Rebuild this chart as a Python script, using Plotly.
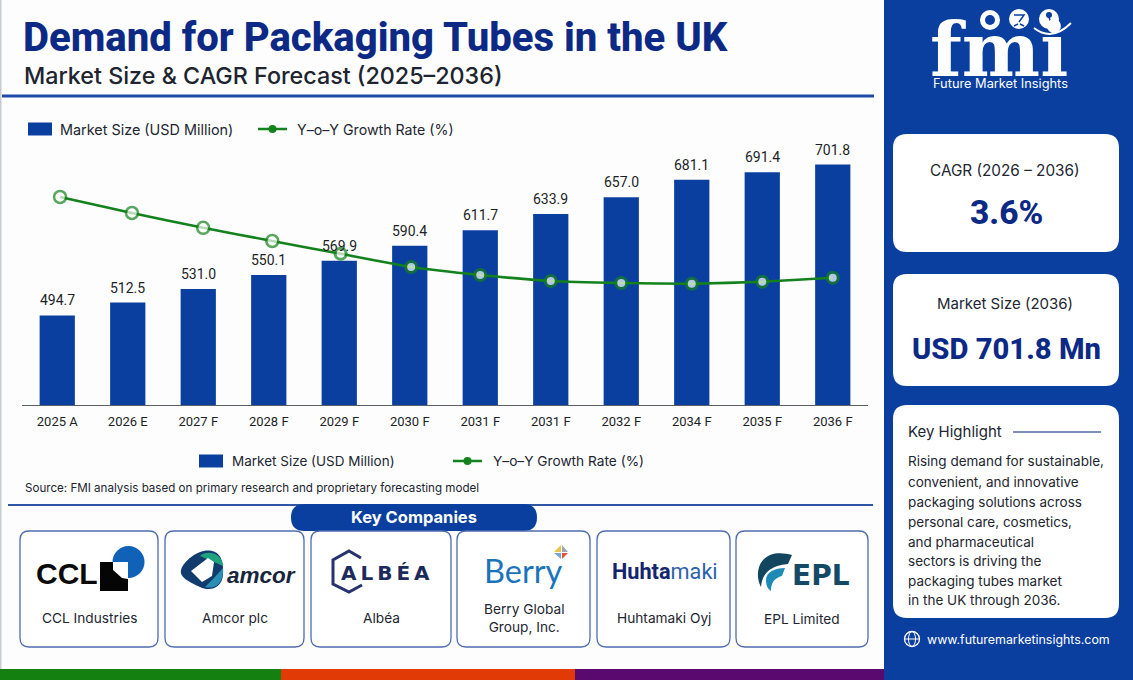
import plotly.graph_objects as go

W, H = 1133, 680

# ---------- data ----------
tick_labels = ["2025 A", "2026 E", "2027 F", "2028 F", "2029 F", "2030 F",
               "2031 F", "2031 F", "2032 F", "2034 F", "2035 F", "2036 F"]
market_size = [494.7, 512.5, 531.0, 550.1, 569.9, 590.4,
               611.7, 633.9, 657.0, 681.1, 691.4, 701.8]
growth_rate = [5.2, 4.8, 4.43, 4.1, 3.78, 3.45, 3.25, 3.1, 3.05, 3.03, 3.08, 3.18]
positions = list(range(len(tick_labels)))
growth_positions = [0.04, 1.06, 2.07, 3.05, 4.02, 5.02, 6.0, 7.0, 8.0, 9.0, 10.0, 11.0]

series_bar = "Market Size (USD Million)"
series_line = "Y\u2013o\u2013Y Growth Rate (%)"
companies = ["CCL Industries", "Amcor plc", "Alb\u00e9a", "Berry Global<br>Group, Inc.",
             "Huhtamaki Oyj", "EPL Limited"]
highlight_lines = ["Rising demand for sustainable,", "convenient, and innovative",
                   "packaging solutions across", "personal care, cosmetics,",
                   "and pharmaceutical", "sectors is driving the",
                   "packaging tubes market", "in the UK through 2036."]

# ---------- colours ----------
BLUE = "#0a3fa0"
NAVY = "#0c2a85"
GREEN = "#14821c"
INK = "#222630"
BORDER = "#4f6cae"
FONT = "Inter, Roboto, sans-serif"
ROBOTO = "Roboto, sans-serif"


def px(x):
    return x / W


def py(y):
    return 1 - y / H


shapes, notes = [], []


def rect(x0, y0, x1, y1, fill, line=None, lw=0, layer="below"):
    shapes.append(dict(type="rect", xref="paper", yref="paper", x0=px(x0), x1=px(x1),
                       y0=py(y0), y1=py(y1), fillcolor=fill, layer=layer,
                       line=dict(color=line or fill, width=lw)))


def hline(x0, x1, y, color, lw):
    shapes.append(dict(type="line", xref="paper", yref="paper", x0=px(x0), x1=px(x1),
                       y0=py(y), y1=py(y), line=dict(color=color, width=lw), layer="below"))


def circle(cx, cy, r, fill, line=None, lw=0):
    shapes.append(dict(type="circle", xref="paper", yref="paper", x0=px(cx - r), x1=px(cx + r),
                       y0=py(cy - r), y1=py(cy + r), fillcolor=fill, layer="below",
                       line=dict(color=line or fill, width=lw)))


def path(points_cmd, fill=None, line=None, lw=0):
    """points_cmd: list of (cmd, x, y, ...) in pixels"""
    out = []
    for item in points_cmd:
        cmd = item[0]
        vals = item[1:]
        coords = []
        for i in range(0, len(vals), 2):
            coords.append(f"{px(vals[i]):.5f},{py(vals[i + 1]):.5f}")
        out.append(cmd + " ".join(coords))
    d = " ".join(out)
    if fill:
        d += " Z"
    shapes.append(dict(type="path", xref="paper", yref="paper", path=d, layer="below",
                       fillcolor=fill or "rgba(0,0,0,0)",
                       line=dict(color=line or "rgba(0,0,0,0)", width=lw)))


def rrect(x0, y0, x1, y1, r, fill, line=None, lw=0):
    path([("M", x0 + r, y0), ("L", x1 - r, y0), ("Q", x1, y0, x1, y0 + r),
          ("L", x1, y1 - r), ("Q", x1, y1, x1 - r, y1), ("L", x0 + r, y1),
          ("Q", x0, y1, x0, y1 - r), ("L", x0, y0 + r), ("Q", x0, y0, x0 + r, y0)],
         fill=fill, line=line, lw=lw)


def text(x, y, s, size, color=INK, anchor="center", family=FONT, weight=None, style=None):
    f = dict(size=size, color=color, family=family)
    if weight:
        f["weight"] = weight
    if style:
        f["style"] = style
    notes.append(dict(xref="paper", yref="paper", x=px(x), y=py(y), text=s, showarrow=False,
                      xanchor=anchor, yanchor="middle", font=f, align="center",
                      borderpad=0, borderwidth=0))


# ---------- background blocks ----------
rect(0, 0, 1.5, 669, "#c9ccd2")
rect(884, 0, W, H, BLUE)
rect(0, 669, 281, H, "#14800f")
rect(281, 669, 575, H, "#e23a06")
rect(575, 669, 884, H, "#5a0a6e")

# ---------- header ----------
text(23, 37, "Demand for Packaging Tubes in the UK", 40.1, NAVY, "left", ROBOTO, 800)
text(24, 75, "Market Size &amp; CAGR Forecast (2025\u20132036)", 23.3, "#20242e", "left", FONT, 500)
hline(2, 874, 96, "#1e4aa6", 3)


# ---------- manual legends ----------
def legend(x_sw, x_txt, x_ln, x_txt2, y, size1, size2):
    rect(x_sw, y - 6.5, x_sw + 24, y + 6.5, BLUE)
    text(x_txt, y, series_bar, size1, INK, "left", FONT)
    hline(x_ln, x_ln + 29, y, GREEN, 2.5)
    circle(x_ln + 14.5, y, 4, GREEN)
    text(x_txt2, y, series_line, size2, INK, "left", FONT)


legend(28, 60, 258, 297, 129, 14.4, 14.2)
legend(199, 232, 453, 493, 461, 13.5, 13.7)

text(25, 488, "Source: FMI analysis based on primary research and proprietary forecasting model",
     11.6, "#20242e", "left", FONT)

# ---------- key companies ----------
hline(8, 873, 505, "#2f55a6", 2)
rrect(291, 504, 537, 531, 13.5, BLUE)
text(414, 517, "Key Companies", 16.5, "white", "center", FONT, 700)

cards = [(20, 158), (165, 304), (311, 451), (457, 590), (597, 730), (736, 868)]
for (a, b), name in zip(cards, companies):
    rrect(a, 531, b, 647, 9, "white", BORDER, 1.3)
    text((a + b) / 2, 618 + (1 if name == "EPL Limited" else 0), name, 13.7, INK, "center", FONT)

# CCL logo
text(36, 573, "CCL", 30, "#0a0a0a", "left", "Liberation Sans", 700)
circle(128.5, 562, 16, "#0f62b8")
rect(100, 562, 128, 591, "#050505")
path([("M", 113, 562), ("L", 128, 562), ("L", 128, 579), ("L", 122, 578), ("L", 113, 570)], fill="white")

# Amcor logo
path([("M", 181, 570), ("C", 184, 560, 200, 548, 212, 551), ("C", 222, 553, 224, 565, 223, 575),
      ("C", 222, 588, 210, 592, 200, 587), ("C", 192, 583, 179, 578, 181, 570)], fill="#123c6e")
path([("M", 200, 556), ("C", 206, 550, 222, 552, 223, 566), ("L", 214, 562)], fill="#1fa37f")
path([("M", 205, 587), ("C", 218, 590, 224, 580, 223, 568), ("L", 214, 578)], fill="#2a8fb4")
path([("M", 191, 571), ("L", 208, 558), ("L", 214, 562), ("L", 212, 576), ("L", 202, 582)], fill="white")
text(227, 575, "amcor", 22.5, "#17263c", "left", "Liberation Sans", 700, "italic")

# Albea logo
path([("M", 361, 558), ("L", 349, 551), ("L", 333, 560), ("L", 333, 584), ("L", 349, 592), ("L", 362, 585)],
     line="#26336e", lw=3)
text(341, 573, "A\u2009L\u2009B\u2009\u00c9\u2009A", 20, "#1d2a5c", "left", "DejaVu Sans", 700)

# Berry logo
text(484, 570, "Berry", 32.5, "#1b74ba", "left", "Lato, sans-serif")
path([("M", 561, 545), ("L", 561, 552), ("L", 554, 552)], fill="#e3c64a")
path([("M", 562, 545), ("L", 568, 552), ("L", 562, 552)], fill="#9aa5b5")
path([("M", 554, 553), ("L", 561, 553), ("L", 561, 559)], fill="#7ba7cf")
path([("M", 562, 553), ("L", 568, 553), ("L", 562, 559)], fill="#e0523c")

# Huhtamaki logo
text(612, 571, "<b>Huhta</b><span style=\"color:#2d62ad\">maki</span>", 21.7, "#14246e", "left", ROBOTO)

# EPL logo
path([("M", 792, 555), ("C", 782, 552, 770, 552, 763, 560), ("C", 756, 568, 757, 580, 761, 587),
      ("C", 762, 575, 768, 566, 788, 564)], fill="#12465f")
path([("M", 785, 568), ("C", 775, 568, 766, 572, 766, 580), ("C", 766, 586, 768, 589, 771, 591),
      ("C", 771, 582, 775, 578, 782, 576)], fill="#1d8bb5")
text(792, 575, "EPL", 28, "#154a66", "left", "DejaVu Sans", 700)

# ---------- sidebar: logo ----------
text(999, 50, "fmi", 74, "white", "center", "DejaVu Serif", 700)
for cx, cy in [(990, 20), (1019, 19), (1049, 19)]:
    circle(cx, cy, 10, "white")
circle(990, 20, 5, BLUE)
path([("M", 1014, 15), ("L", 1024, 15), ("L", 1019, 22)], line=BLUE, lw=1.5)
path([("M", 1014, 26), ("L", 1018, 24), ("M", 1024, 26), ("L", 1020, 24)], line=BLUE, lw=1.5)
circle(1049, 15, 3, BLUE)
path([("M", 1049, 17), ("L", 1052, 27)], line=BLUE, lw=1.5)
path([("M", 1034, 28), ("Q", 1052, 42, 1071, 23)], line="white", lw=2)
text(1000, 83, "Future Market Insights", 12.8, "white", "center", FONT)

# ---------- sidebar: cards ----------
rrect(893, 134, 1119, 252, 14, "white")
text(1005, 170, "CAGR (2026 \u2013 2036)", 15.3, INK, "center", FONT)
text(1006, 212, "3.6%", 33.5, NAVY, "center", ROBOTO, 800)

rrect(893, 274, 1119, 386, 14, "white")
text(1005, 303, "Market Size (2036)", 15, INK, "center", FONT)
text(1006, 349, "USD 701.8 Mn", 29.2, NAVY, "center", ROBOTO, 800)

rrect(893, 405, 1119, 618, 14, "white")
text(908, 431, "Key Highlight", 15, INK, "left", FONT)
hline(1013, 1101, 432, "#4f6cae", 1.5)
for y, line in zip([461, 482, 502, 522, 542, 561, 581, 600], highlight_lines):
    text(908, y, line, 13.5, INK, "left", FONT)

# globe + url
circle(912, 639, 7.5, "rgba(0,0,0,0)", "white", 1.3)
shapes.append(dict(type="circle", xref="paper", yref="paper", x0=px(908.5), x1=px(915.5),
                   y0=py(631.5), y1=py(646.5), line=dict(color="white", width=1), layer="below"))
hline(904.5, 919.5, 639, "white", 1)
text(927, 639, "www.futuremarketinsights.com", 12.4, "white", "left", FONT)

# ---------- traces ----------
fig = go.Figure()
fig.add_trace(go.Bar(x=positions, y=market_size, width=0.5, name=series_bar,
                     marker=dict(color=BLUE, line=dict(width=0)), showlegend=False))
fig.add_trace(go.Scatter(x=growth_positions, y=growth_rate, yaxis="y2", mode="lines+markers",
                         name=series_line, line=dict(color=GREEN, width=2.6, shape="spline", smoothing=0.4),
                         marker=dict(size=[12] * 4 + [11] * 8, color="white",
                                     line=dict(color=GREEN, width=[2.5] * 4 + [3] * 8)),
                         showlegend=False))

for xv, v in zip(positions, market_size):
    notes.append(dict(xref="x", yref="y", x=xv, y=v, text=f"{v:.1f}", showarrow=False,
                      yanchor="middle", xanchor="center", yshift=15,
                      font=dict(size=14, color="#1c1f26", family=ROBOTO)))

fig.update_layout(
    width=W, height=H, autosize=False, margin=dict(l=0, r=0, t=0, b=0),
    paper_bgcolor="#fdfdfe", plot_bgcolor="rgba(0,0,0,0)",
    showlegend=False, bargap=0.5,
    shapes=shapes, annotations=notes,
    font=dict(family=FONT, color=INK),
    xaxis=dict(domain=[px(22), px(868)], range=[-0.5, 11.5], tickmode="array",
               tickvals=positions, ticktext=tick_labels, showgrid=False, zeroline=False,
               showline=True, linecolor="#5a5e66", linewidth=1, ticks="", ticklabelstandoff=4,
               tickfont=dict(size=13, color="#1c1f26", family=ROBOTO)),
    yaxis=dict(domain=[py(405), py(140)], range=[371.9, 735.5], visible=False),
    yaxis2=dict(domain=[py(405), py(140)], range=[0, 6.625], overlaying="y", side="right",
                visible=False),
)

fig.write_html("out.html", config={"displayModeBar": False},
               post_script="document.body.style.margin='0';document.body.style.overflow='hidden';")
